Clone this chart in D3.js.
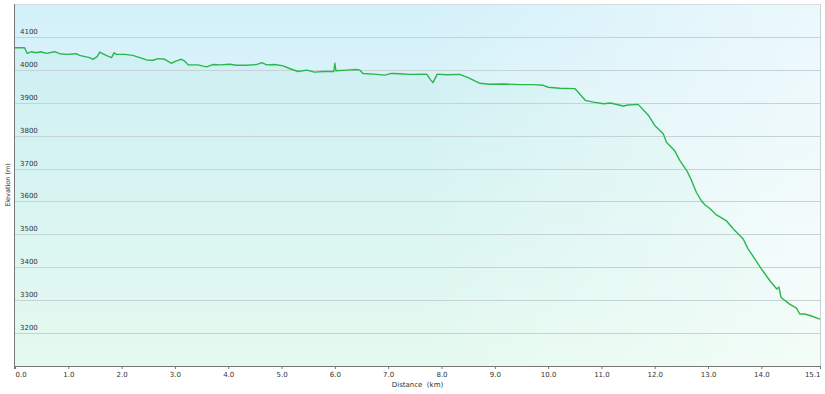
<!DOCTYPE html>
<html>
<head>
<meta charset="UTF-8">
<title>Elevation profile</title>
<style>
html, body { margin: 0; padding: 0; background: #fff; overflow: hidden; }
#canvas { width: 825px; height: 394px; }
#canvas svg { display: block; }
text { font-family: Verdana, "DejaVu Sans", sans-serif; fill: #333; }
</style>
<script src="https://cdn.jsdelivr.net/npm/d3@7/dist/d3.min.js"></script>
</head>
<body>
<div id="canvas"></div>
<script>
// distance (km) and elevation (m)
var distance = [0, 0.18, 0.23, 0.31, 0.40, 0.48, 0.59, 0.74, 0.84, 0.96, 1.15, 1.21, 1.40, 1.46, 1.54, 1.59,
  1.71, 1.81, 1.86, 1.90, 2.06, 2.21, 2.34, 2.47, 2.59, 2.68, 2.81, 2.93, 3.03, 3.12, 3.18, 3.25, 3.43,
  3.59, 3.71, 3.84, 4.03, 4.15, 4.34, 4.53, 4.63, 4.72, 4.87, 5.03, 5.15, 5.31, 5.47, 5.62, 5.79, 5.98,
  6.00, 6.02, 6.22, 6.40, 6.47, 6.53, 6.72, 6.94, 7.06, 7.22, 7.41, 7.72, 7.79, 7.84, 7.92, 8.09, 8.34,
  8.50, 8.72, 8.90, 9.16, 9.47, 9.72, 9.91, 10.0, 10.22, 10.50, 10.57, 10.70, 10.85, 11.04, 11.17, 11.41,
  11.50, 11.69, 11.88, 12.0, 12.16, 12.22, 12.37, 12.47, 12.6, 12.69, 12.78, 12.87, 12.94, 13.04,
  13.15, 13.34, 13.47, 13.66, 13.75, 13.88, 14.0, 14.16, 14.29, 14.33, 14.37, 14.53, 14.66, 14.72, 14.81,
  14.94, 15.07, 15.1];
var elevation = [4067, 4067, 4050, 4055, 4052, 4055, 4050, 4055, 4049, 4047, 4049, 4044, 4037, 4032, 4040, 4054,
  4044, 4037, 4052, 4047, 4047, 4044, 4037, 4030, 4029, 4034, 4032, 4020, 4027, 4032, 4027, 4015, 4015,
  4009, 4016, 4015, 4017, 4014, 4014, 4016, 4022, 4015, 4016, 4012, 4004, 3995, 3999, 3993, 3995, 3995,
  4020, 3997, 3999, 4001, 3999, 3989, 3987, 3984, 3989, 3988, 3986, 3987, 3971, 3961, 3987, 3985, 3986,
  3976, 3959, 3956, 3957, 3955, 3955, 3953, 3947, 3944, 3943, 3931, 3907, 3902, 3897, 3899, 3890,
  3893, 3895, 3862, 3831, 3806, 3780, 3755, 3725, 3694, 3664, 3628, 3603, 3590, 3578,
  3560, 3542, 3517, 3486, 3456, 3425, 3395, 3359, 3334, 3340, 3308, 3288, 3276, 3258, 3258,
  3252, 3244, 3243];

var yTicks = [3200, 3300, 3400, 3500, 3600, 3700, 3800, 3900, 4000, 4100];
var xTicks = [0, 1, 2, 3, 4, 5, 6, 7, 8, 9, 10, 11, 12, 13, 14, 15.1];

var width = 825, height = 394;
var margin = {top: 4, right: 5, bottom: 28, left: 15};
var innerWidth = width - margin.left - margin.right;
var innerHeight = height - margin.top - margin.bottom;

var points = distance.map(function(d, i) { return {x: d, y: elevation[i]}; });

var x = d3.scaleLinear().domain([0, 15.1]).range([0, innerWidth]);
var y = d3.scaleLinear().domain([3100, 4200]).range([innerHeight, 0]);

var svg = d3.select("#canvas").append("svg")
    .attr("width", width)
    .attr("height", height);

var defs = svg.append("defs");
var bg = defs.append("linearGradient").attr("id", "bg")
    .attr("x1", 0).attr("y1", 0).attr("x2", 0).attr("y2", 1);
bg.append("stop").attr("offset", "0%").attr("stop-color", "#d3f0fa");
bg.append("stop").attr("offset", "100%").attr("stop-color", "#eefcf4");

var fade = defs.append("linearGradient").attr("id", "fade")
    .attr("x1", 0).attr("y1", 0).attr("x2", 1).attr("y2", 0);
fade.append("stop").attr("offset", "50%").attr("stop-color", "#fff").attr("stop-opacity", 0);
fade.append("stop").attr("offset", "100%").attr("stop-color", "#fff").attr("stop-opacity", 0.55);

var g = svg.append("g")
    .attr("transform", "translate(" + margin.left + "," + margin.top + ")");

g.append("rect").attr("width", innerWidth).attr("height", innerHeight).attr("fill", "url(#bg)");

// area below the profile
var area = d3.area()
    .x(function(d) { return x(d.x); })
    .y0(innerHeight)
    .y1(function(d) { return y(d.y); });

g.append("path").datum(points)
    .attr("d", area)
    .attr("fill", "#4fdcb0")
    .attr("fill-opacity", 0.06);

g.append("rect").attr("width", innerWidth).attr("height", innerHeight).attr("fill", "url(#fade)");

// gridlines
g.append("g").selectAll("line")
  .data(yTicks)
  .enter().append("line")
    .attr("x1", 0).attr("x2", innerWidth)
    .attr("y1", function(d) { return Math.round(y(d)) + 0.5; })
    .attr("y2", function(d) { return Math.round(y(d)) + 0.5; })
    .attr("stroke", "#c5d3d6")
    .attr("stroke-width", 1);

var line = d3.line()
    .x(function(d) { return x(d.x); })
    .y(function(d) { return y(d.y); });

g.append("path").datum(points)
    .attr("d", line)
    .attr("fill", "none")
    .attr("stroke", "#2bb64c")
    .attr("stroke-width", 1.4)
    .attr("stroke-linejoin", "round");

// y labels sit above the gridlines, inside the plot
g.append("g").selectAll("text")
  .data(yTicks)
  .enter().append("text")
    .attr("x", 5)
    .attr("y", function(d) { return y(d) - 3; })
    .style("font-size", "7px")
    .text(function(d) { return d; });

// frame
g.append("line").attr("x1", innerWidth + 0.5).attr("x2", innerWidth + 0.5)
    .attr("y1", 0).attr("y2", innerHeight).attr("stroke", "#c9d2d6");
g.append("line").attr("x1", 0).attr("x2", innerWidth)
    .attr("y1", 0.5).attr("y2", 0.5).attr("stroke", "#d5dde0");

var xAxis = d3.axisBottom(x)
    .tickValues(xTicks)
    .tickSize(3)
    .tickSizeOuter(0)
    .tickFormat(d3.format(".1f"));

var gx = g.append("g")
    .attr("transform", "translate(0," + innerHeight + ")")
    .call(xAxis);
gx.select(".domain").attr("stroke", "#777");
gx.selectAll(".tick line").attr("stroke", "#777");
gx.selectAll(".tick text")
    .attr("y", 6)
    .style("font-size", "7px")
    .style("font-family", "Verdana, 'DejaVu Sans', sans-serif")
    .attr("fill", "#333")
    .attr("text-anchor", function(d, i) { return i === 0 ? "start" : (i === xTicks.length - 1 ? "end" : "middle"); });

g.append("line")
    .attr("x1", -0.5).attr("x2", -0.5)
    .attr("y1", 0).attr("y2", innerHeight + 3)
    .attr("stroke", "#777");

// axis titles
svg.append("text")
    .attr("x", margin.left + innerWidth / 2)
    .attr("y", 387)
    .attr("text-anchor", "middle")
    .style("font-size", "7px")
    .style("white-space", "pre")
    .text("Distance  (km)");

svg.append("text")
    .attr("transform", "translate(10," + (margin.top + innerHeight / 2) + ") rotate(-90)")
    .attr("text-anchor", "middle")
    .style("font-size", "6.5px")
    .text("Elevation (m)");
</script>
</body>
</html>
